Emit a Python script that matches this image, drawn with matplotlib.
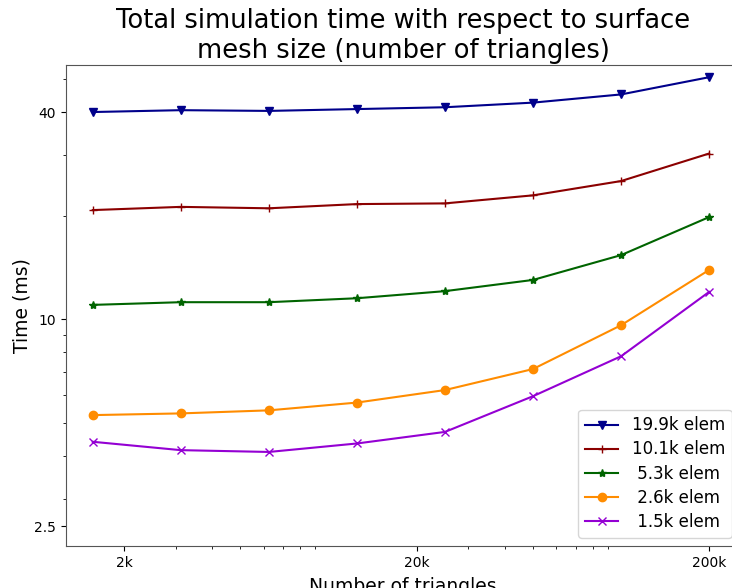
import numpy as np
import matplotlib
matplotlib.use('Agg')
import matplotlib.pyplot as plt
from matplotlib.ticker import FixedLocator, FixedFormatter, LogLocator, NullFormatter

# number of triangles in the surface mesh
triangles = [1562.5, 3125, 6250, 12500, 25000, 50000, 100000, 200000]

# total simulation time (ms) per volume mesh size
t_19k9 = [40.0, 40.5, 40.3, 40.8, 41.3, 42.6, 45.0, 50.5]
t_10k1 = [20.75, 21.2, 21.0, 21.6, 21.7, 22.9, 25.2, 30.3]
t_5k3 = [11.0, 11.2, 11.2, 11.5, 12.06, 13.0, 15.35, 19.8]
t_2k6 = [5.26, 5.32, 5.43, 5.72, 6.22, 7.16, 9.6, 13.9]
t_1k5 = [4.40, 4.16, 4.11, 4.35, 4.70, 5.97, 7.8, 12.0]

labels = ['19.9k elem', '10.1k elem', ' 5.3k elem', ' 2.6k elem', ' 1.5k elem']
colors = ['darkblue', 'darkred', 'darkgreen', 'darkorange', 'darkviolet']
markers = ['v', '+', '*', 'o', 'x']

xticks = [2000, 20000, 200000]
xtick_labels = ['2k', '20k', '200k']
yticks = [2.5, 10, 40]
ytick_labels = ['2.5', '10', '40']

fig = plt.figure(figsize=(7.32, 5.88), dpi=100)
ax = fig.add_axes([66/732., 42/588., 674/732., 481/588.])

series = [t_19k9, t_10k1, t_5k3, t_2k6, t_1k5]
for s, lab, c, m in zip(series, labels, colors, markers):
    ax.plot(triangles, s, color=c, marker=m, label=lab, linewidth=1.5, markersize=6)

ax.set_xscale('log')
ax.set_yscale('log')
ax.set_xlim(1266, 255000)
ax.set_ylim(2.19, 54.8)

ax.xaxis.set_major_locator(FixedLocator(xticks))
ax.xaxis.set_major_formatter(FixedFormatter(xtick_labels))
ax.xaxis.set_minor_locator(LogLocator(base=10, subs=np.arange(2, 10)))
ax.xaxis.set_minor_formatter(NullFormatter())
ax.yaxis.set_major_locator(FixedLocator(yticks))
ax.yaxis.set_major_formatter(FixedFormatter(ytick_labels))
ax.yaxis.set_minor_locator(LogLocator(base=10, subs=np.arange(2, 10)))
ax.yaxis.set_minor_formatter(NullFormatter())

ax.tick_params(labelsize=10)
for sp in ax.spines.values():
    sp.set_color('#555555')

ax.set_title('Total simulation time with respect to surface\nmesh size (number of triangles)',
             fontsize=18.5, pad=5)
ax.set_xlabel('Number of triangles', fontsize=13.5, labelpad=5)
ax.set_ylabel('Time (ms)', fontsize=13.5, labelpad=2)
ax.legend(loc='lower right', fontsize=12, labelspacing=0.37)

fig.savefig('out.png', dpi=100)
